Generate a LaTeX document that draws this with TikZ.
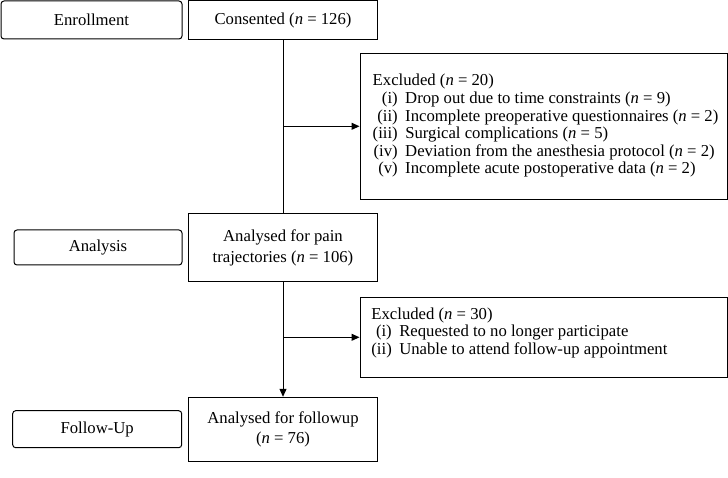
\documentclass[tikz,border=0pt]{standalone}
\usepackage{fontspec}
\setmainfont{Liberation Serif}
\usetikzlibrary{arrows.meta}
\begin{document}
\begin{tikzpicture}[x=1pt,y=-1pt,
  every node/.style={font=\fontsize{16.7}{20.7}\selectfont},
  box/.style={draw, line width=1pt, inner sep=0pt, align=center},
  lab/.style={box, rounded corners=3pt},
  ln/.style={line width=1pt},
  arr/.style={line width=1pt, -{Triangle[length=8pt,width=7pt]}},
  list/.style={anchor=west, inner sep=0pt, font=\fontsize{16.7}{17.6}\selectfont}]
\useasboundingbox (0,0) rectangle (728,478);
% stage labels
\node[lab, minimum width=181pt, minimum height=38pt] (enroll) at (91.5,20) {Enrollment};
\node[lab, minimum width=168pt, minimum height=35pt] (analysis) at (98,247.5) {Analysis};
\node[lab, minimum width=169pt, minimum height=37pt] (fulab) at (97.2,429.2) {Follow-Up};
% main boxes
\node[box, minimum width=189.7pt, minimum height=38.5pt] (consent) at (283,20.25) {Consented (\textit{n} = 126)};
\node[box, minimum width=189.7pt, minimum height=68.2pt] (pain) at (283,247.6) {Analysed for pain\\trajectories (\textit{n} = 106)};
\node[box, minimum width=189.7pt, minimum height=64.4pt] (follow) at (283,429.5) {Analysed for followup\\(\textit{n} = 76)};
% exclusion boxes
\node[box, minimum width=367.7pt, minimum height=146pt] (ex1) at (543.85,126.3) {};
\node[list] (ex1t) at ([xshift=13pt]ex1.west) {\begin{tabular}{@{}r@{\hspace{7.5pt}}l@{}}
\multicolumn{2}{@{}l@{}}{Excluded (\textit{n} = 20)}\\
(i) & Drop out due to time constraints (\textit{n} = 9)\\
(ii) & Incomplete preoperative questionnaires (\textit{n} = 2)\\
(iii) & Surgical complications (\textit{n} = 5)\\
(iv) & Deviation from the anesthesia protocol (\textit{n} = 2)\\
(v) & Incomplete acute postoperative data (\textit{n} = 2)
\end{tabular}};
\node[box, minimum width=367.7pt, minimum height=80pt] (ex2) at (543.85,337.3) {};
\node[list] (ex2t) at ([xshift=11.7pt,yshift=4pt]ex2.west) {\begin{tabular}{@{}r@{\hspace{7.5pt}}l@{}}
\multicolumn{2}{@{}l@{}}{Excluded (\textit{n} = 30)}\\
(i) & Requested to no longer participate\\
(ii) & Unable to attend follow-up appointment
\end{tabular}};
% connectors
\draw[ln] (consent.south) -- (pain.north);
\draw[arr] (consent.south |- ex1.west) -- (ex1.west);
\draw[arr] (pain.south) -- (follow.north);
\draw[arr] (pain.south |- ex2.west) -- (ex2.west);
\end{tikzpicture}
\end{document}
